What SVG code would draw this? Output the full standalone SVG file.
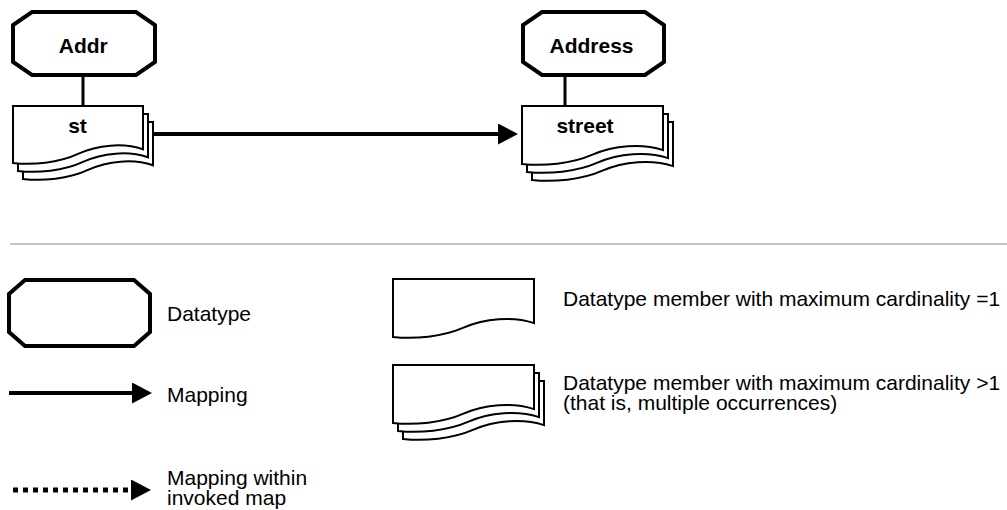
<svg xmlns="http://www.w3.org/2000/svg" width="1007" height="510" viewBox="0 0 1007 510">
<style>
.oct{fill:#fff;stroke:#000;stroke-width:4;stroke-linejoin:miter}
.doc{fill:#fff;stroke:#000;stroke-width:2;stroke-linejoin:miter}
.b{font-family:"Liberation Sans",Arial,sans-serif;font-weight:bold;font-size:21px;fill:#000;text-anchor:middle}
.t{font-family:"Liberation Sans",Arial,sans-serif;font-size:21px;fill:#000}
.ln{stroke:#000;stroke-width:4;fill:none}
.stem{stroke:#000;stroke-width:3;fill:none}
</style>
<defs>
<marker id="ah" markerUnits="userSpaceOnUse" markerWidth="20" markerHeight="21" viewBox="0 0 20 21" refX="2" refY="10.5" orient="auto">
<path d="M0,0 L20,10.5 L0,21 Z" fill="#000"/>
</marker>
<path id="docA" d="M0,0 H130 V43.3 C110.5,36.5 84.5,38.8 65,47.9 C45.5,57 19.5,59.3 0,57 Z"/>
<path id="docB" d="M0,0 H141 V44.1 C119.9,37.1 91.7,39.4 70.5,48.7 C49.4,58 21.2,60.3 0,58 Z"/>
</defs>

<g id="connectors">
<line class="stem" x1="83" y1="75" x2="83" y2="107"/>
<line class="stem" x1="565" y1="75" x2="565" y2="107"/>
<line class="ln" x1="150" y1="134" x2="500" y2="134" marker-end="url(#ah)"/>
</g>

<g id="node-addr">
<polygon class="oct" points="32,12 136,12 155,25 155,62 136,75 32,75 13,62 13,25"/>
<text class="b" x="83.3" y="53">Addr</text>
</g>

<g id="node-st">
<use href="#docA" class="doc" x="23" y="122"/>
<use href="#docA" class="doc" x="18" y="114"/>
<use href="#docA" class="doc" x="13" y="106"/>
<text class="b" x="77.5" y="133">st</text>
</g>

<g id="node-address">
<polygon class="oct" points="542,12 645,12 664,25 664,62 645,75 542,75 523,62 523,25"/>
<text class="b" x="591.5" y="53">Address</text>
</g>

<g id="node-street">
<use href="#docB" class="doc" x="532" y="122"/>
<use href="#docB" class="doc" x="527" y="114"/>
<use href="#docB" class="doc" x="522" y="106"/>
<text class="b" x="585" y="133">street</text>
</g>

<line x1="10" y1="244" x2="1007" y2="244" stroke="#c4c4c4" stroke-width="2"/>

<g id="legend-datatype">
<polygon class="oct" points="25,280 134,280 150,294 150,332 134,346 25,346 9,332 9,294"/>
<text class="t" x="167" y="321">Datatype</text>
</g>

<g id="legend-mapping">
<line class="ln" x1="9" y1="393" x2="134" y2="393" marker-end="url(#ah)"/>
<text class="t" x="167" y="402">Mapping</text>
</g>

<g id="legend-invoked">
<line x1="13" y1="490" x2="133" y2="490" stroke="#000" stroke-width="5" stroke-dasharray="5 5" marker-end="url(#ah)"/>
<text class="t" x="167" y="485">Mapping within</text>
<text class="t" x="167" y="505">invoked map</text>
</g>

<g id="legend-member-single">
<use href="#docB" class="doc" x="393" y="279"/>
<text class="t" x="563" y="306">Datatype member with maximum cardinality =1</text>
</g>

<g id="legend-member-multi">
<use href="#docB" class="doc" x="403" y="381"/>
<use href="#docB" class="doc" x="398" y="373"/>
<use href="#docB" class="doc" x="393" y="365"/>
<text class="t" x="563" y="390">Datatype member with maximum cardinality &gt;1</text>
<text class="t" x="563" y="409.5">(that is, multiple occurrences)</text>
</g>
</svg>
